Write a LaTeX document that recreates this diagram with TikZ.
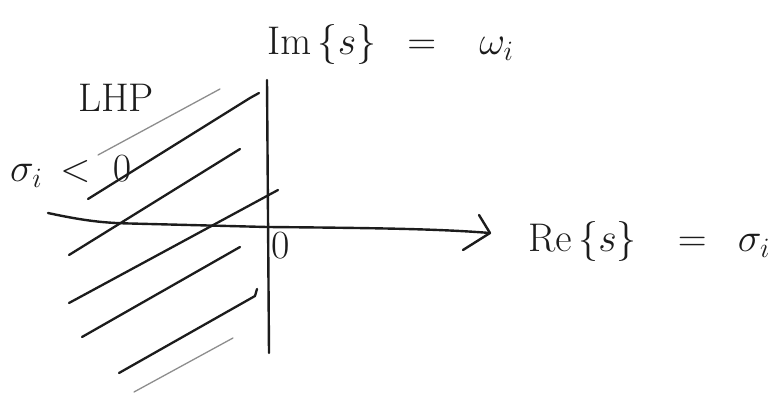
\RequirePackage{fix-cm}
\documentclass[tikz,border=0pt]{standalone}
\usetikzlibrary{calc}
\definecolor{inkc}{HTML}{1C1C1C}
\tikzset{
  ink/.style={line width=2.4pt, draw=inkc, line cap=round, line join=round},
  hatchline/.style={line width=2.3pt, draw=inkc, line cap=round, line join=round},
  faintline/.style={line width=1.3pt, draw=inkc!50, line cap=round},
  lbl/.style={text=inkc, inner sep=0pt, font=\fontsize{40}{48}\selectfont}
}
\begin{document}
\begin{tikzpicture}[x=1pt,y=-1pt]
  \useasboundingbox (0,0) rectangle (777,395);
  % hatching of the left half plane
  \draw[faintline] (98,155) -- (220,89);
  \draw[hatchline] (88,199) -- (250,98) -- (259,93);
  \draw[hatchline] (69,255) -- (240,149);
  \draw[hatchline] (69,303) -- (278,190);
  \draw[hatchline] (82,337) -- (240,247);
  \draw[hatchline] (119,373) -- (255,296) -- (257,289);
  \draw[faintline] (134,392) -- (233,338);
  % axes
  \coordinate (ytop) at (267,80);
  \coordinate (ybot) at (269,353);
  \coordinate (xstart) at (48,213);
  \coordinate (xend) at (490,233);
  \coordinate (ahup) at (479,215);
  \coordinate (ahlow) at (463,250);
  \draw[ink] (ytop) -- (ybot);
  \draw[ink] (xstart) .. controls (85,221) and (105,223) .. (130,223.5)
     -- (267,227) .. controls (380,228) and (440,229) .. (xend);
  \draw[ink] (ahup) -- (xend) -- (ahlow);
  % labels
  \node[lbl, anchor=base west] (imlbl) at (267,55)
    {$\mathrm{Im}\,\{s\}\hspace{0.5em}=\hspace{0.8em}\omega_i$};
  \node[lbl, anchor=base west] (relbl) at (528,252)
    {$\mathrm{Re}\,\{s\}\hspace{0.75em}=\hspace{0.5em}\sigma_i$};
  \node[lbl, anchor=base west] (lhp) at (78,112) {LHP};
  \node[lbl, anchor=base west] (sigma) at (10,182) {$\sigma_i\,<\;0$};
  \node[lbl, anchor=base west] (origin) at (271,259) {$0$};
\end{tikzpicture}
\end{document}
